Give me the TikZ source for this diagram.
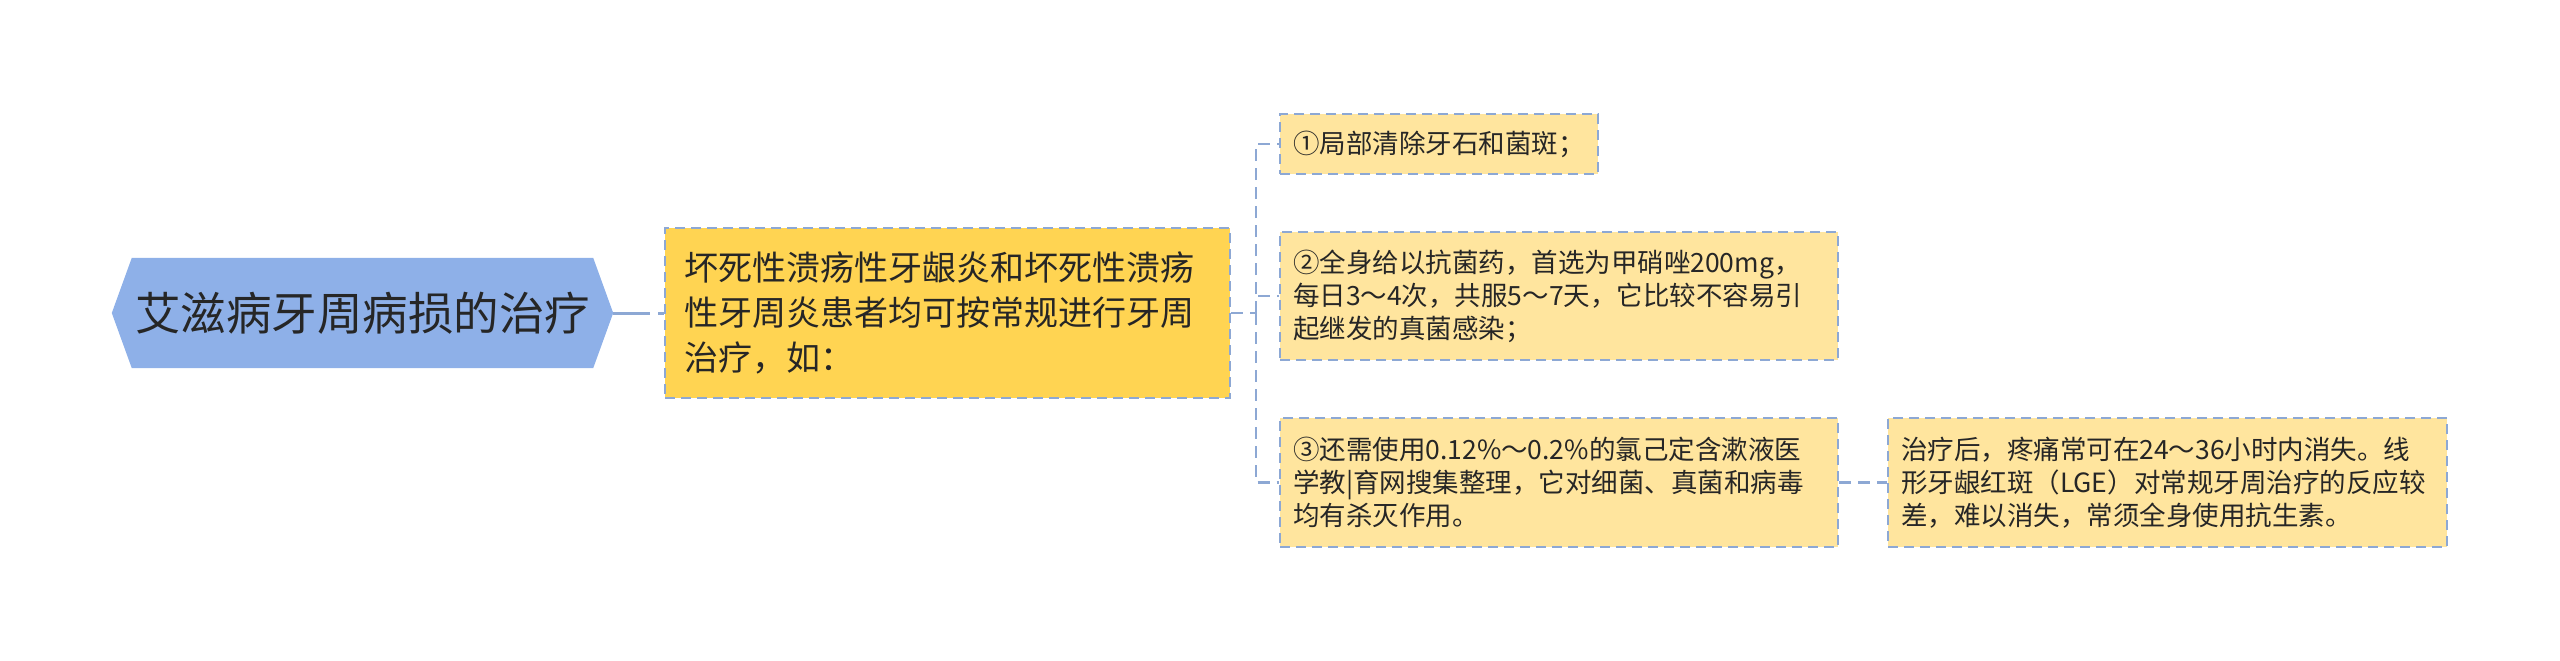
\documentclass[tikz,border=0pt]{standalone}
\usepackage{fontspec}
\setmainfont{Noto Sans CJK SC}
\usetikzlibrary{calc,backgrounds}
\definecolor{hexfill}{RGB}{142,176,232}
\definecolor{mainfill}{RGB}{255,212,82}
\definecolor{subfill}{RGB}{255,229,158}
\definecolor{edgeblue}{RGB}{141,168,212}
\definecolor{txt}{RGB}{38,38,38}
\begin{document}
\begin{tikzpicture}[x=1pt,y=-1pt,
  box/.style={draw=edgeblue, line width=2pt, dash pattern=on 10pt off 6pt, inner ysep=0pt, text=txt, align=left},
  mainbox/.style={box, fill=mainfill, inner xsep=19pt, text width=527pt, minimum height=170pt, font=\fontsize{34}{45}\selectfont},
  subbox/.style={box, fill=subfill, inner xsep=13pt, font=\fontsize{26.5}{33}\selectfont},
  link/.style={draw=edgeblue, line width=2.5pt, dash pattern=on 12pt off 7pt},
  rootlink/.style={draw=edgeblue, line width=3pt, dash pattern=on 37pt off 8pt}]
\useasboundingbox (0,0) rectangle (2560,661);

\node[inner sep=0pt, minimum width=501pt, minimum height=110pt, text=txt, font=\fontsize{45.5}{55}\selectfont] (root) at (362.5,313) {艾滋病牙周病损的治疗};
\begin{scope}[on background layer]
\fill[hexfill] (root.west) -- ($(root.north west)+(20,0)$) -- ($(root.north east)+(-20,0)$) -- (root.east) -- ($(root.south east)+(-20,0)$) -- ($(root.south west)+(20,0)$) -- cycle;
\end{scope}

\node[mainbox] (main) at (947.5,313) {坏死性溃疡性牙龈炎和坏死性溃疡\\性牙周炎患者均可按常规进行牙周\\治疗，如：};

\node[subbox, text width=292pt, minimum height=60pt] (b1) at (1439,144) {①局部清除牙石和菌斑；};
\node[subbox, text width=532pt, minimum height=128pt] (b2) at (1559,296) {②全身给以抗菌药，首选为甲硝唑200mg，\\每日3～4次，共服5～7天，它比较不容易引\\起继发的真菌感染；};
\node[subbox, text width=532pt, minimum height=129pt] (b3) at (1559,482.5) {③还需使用0.12\%～0.2\%的氯己定含漱液医\\学教|育网搜集整理，它对细菌、真菌和病毒\\均有杀灭作用。};
\node[subbox, text width=533pt, minimum height=129pt] (r) at (2167.5,482.5) {治疗后，疼痛常可在24～36小时内消失。线\\形牙龈红斑（LGE）对常规牙周治疗的反应较\\差，难以消失，常须全身使用抗生素。};

\coordinate (fork) at (1256,313);
\draw[rootlink] (root.east) -- (main.west);
\draw[link] (main.east) -- (fork);
\draw[link] (fork) |- (b1.west);
\draw[link] (fork) |- (b2.west);
\draw[link] (fork) |- (b3.west);
\draw[link] (b3.east) -- (r.west);
\end{tikzpicture}
\end{document}
